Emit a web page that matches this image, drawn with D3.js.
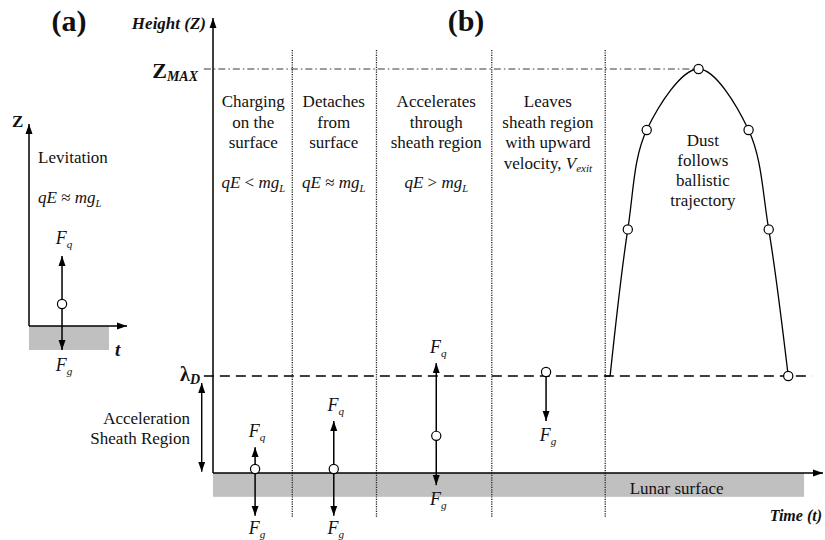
<!DOCTYPE html>
<html>
<head>
<meta charset="utf-8">
<script src="https://cdn.jsdelivr.net/npm/d3@7"></script>
</head>
<body style="margin:0; background:#fff">
<svg id="fig" width="825" height="540"></svg>
<script>
/* panel (b): time 0..100 along the surface, height 0..100 (0 = surface, 100 = Z_MAX) */
var phaseBounds = [13.0, 26.8, 45.7, 64.3];
var phaseCentres = [6.6, 19.8, 36.6, 54.9];
var phaseText = [
    ["Charging", "on the", "surface"],
    ["Detaches", "from", "surface"],
    ["Accelerates", "through", "sheath region"],
    ["Leaves", "sheath region", "with upward", "velocity, "]
];
var phaseRelation = ["<", "\u2248", ">", null];

var particleT = [6.9, 19.8, 36.6, 54.6];
var particleZ = [1.0, 1.0, 9.2, 25.0];
var fqTipZ = [6.4, 12.9, 27.2, null];
var fgTipZ = [-10.6, -10.6, -3.0, 12.9];

var sheathZ = 24.0;          // lambda_D
var surfaceDepth = -5.9;     // grey lunar surface band
var surfaceEndT = 96.9;

// ballistic trajectory, points
var trajT = [65.1, 68.0, 71.1, 79.6, 87.8, 91.1, 94.3];
var trajZ = [24.0, 60.3, 84.9, 100, 84.9, 60.3, 24.0];
var trajMarked = [false, true, true, true, true, true, true];
var dustText = ["Dust", "follows", "ballistic", "trajectory"];

/* panel (a): time 0..100, height 0..100 */
var levT = 33.7, levZ = 10.9, levFq = 34.7, levFg = -11.9;
var levGroundEnd = 81.6;

var FONT = "Liberation Serif";
var svg = d3.select("#fig");

var defs = svg.append("defs");
defs.append("marker")
    .attr("id", "ah")
    .attr("viewBox", "0 -4 10 8")
    .attr("refX", 10).attr("refY", 0)
    .attr("markerUnits", "userSpaceOnUse")
    .attr("markerWidth", 10).attr("markerHeight", 8)
    .attr("orient", "auto-start-reverse")
  .append("path")
    .attr("d", "M0,-3.5L10,0L0,3.5Z")
    .style("fill", "#000");

function txt(g, x, y, s, size, anchor) {
    return g.append("text")
        .attr("x", x).attr("y", y)
        .attr("text-anchor", anchor || "start")
        .attr("font-family", FONT)
        .attr("font-size", size)
        .attr("fill", "#111")
        .text(s);
}

// text with italic / subscript parts
function rich(g, x, y, parts, size, anchor) {
    var t = txt(g, x, y, null, size, anchor);
    var down = 0;
    parts.forEach(function(p) {
        var s = t.append("tspan").text(p.t);
        if (p.i) s.attr("font-style", "italic");
        if (p.b) s.attr("font-weight", "bold");
        var want = p.sub ? (p.subDy || 4) : 0;
        if (want != down) { s.attr("dy", want - down); down = want; }
        if (p.sub) s.attr("font-size", p.subSize || size * 0.62);
    });
    return t;
}

function force(sym) {
    return [{t: "F", i: true}, {t: sym, i: true, sub: true}];
}
function relation(op) {
    return [{t: "q", i: true}, {t: "E", i: true}, {t: " " + op + " "},
            {t: "m", i: true}, {t: "g", i: true}, {t: "L", i: true, sub: true}];
}

/* ---------- panel (b) ---------- */
var x = d3.scaleLinear().domain([0, 100]).range([213, 823]);
var y = d3.scaleLinear().domain([0, 100]).range([473, 69]);
var b = svg.append("g");

b.append("rect")
    .attr("x", x(0)).attr("y", y(0))
    .attr("width", x(surfaceEndT) - x(0))
    .attr("height", y(surfaceDepth) - y(0))
    .style("fill", "#c0c0c0");

b.selectAll(".divider")
    .data(phaseBounds)
    .enter().append("line")
    .attr("class", "divider")
    .attr("x1", function(d) {return x(d);}).attr("x2", function(d) {return x(d);})
    .attr("y1", y(104.7)).attr("y2", y(-10.9))
    .style("stroke", "#222").style("stroke-width", 1.3)
    .style("stroke-dasharray", "1.2,1.2");

// Z_MAX dash-dot
b.append("line")
    .attr("x1", x(-1.5)).attr("x2", x(79.6))
    .attr("y1", y(100)).attr("y2", y(100))
    .style("stroke", "#222").style("stroke-width", 0.9)
    .style("stroke-dasharray", "7,3,1.5,3");

// lambda_D dashed
b.append("line")
    .attr("x1", x(-1.5)).attr("x2", x(98.2))
    .attr("y1", y(sheathZ)).attr("y2", y(sheathZ))
    .style("stroke", "#000").style("stroke-width", 1.6)
    .style("stroke-dasharray", "10,6");

// axes
b.append("line")
    .attr("x1", x(0)).attr("x2", x(0))
    .attr("y1", y(0)).attr("y2", y(112.6))
    .attr("marker-end", "url(#ah)")
    .style("stroke", "#000").style("stroke-width", 1.5);
b.append("line")
    .attr("x1", x(0)).attr("x2", x(100))
    .attr("y1", y(0)).attr("y2", y(0))
    .attr("marker-end", "url(#ah)")
    .style("stroke", "#000").style("stroke-width", 1.5);

// sheath double arrow
b.append("line")
    .attr("x1", x(-1.85)).attr("x2", x(-1.85))
    .attr("y1", y(22.3)).attr("y2", y(0.3))
    .attr("marker-start", "url(#ah)").attr("marker-end", "url(#ah)")
    .style("stroke", "#000").style("stroke-width", 1.4);

// trajectory
var traj = trajT.map(function(d, i) {return [d, trajZ[i]];});
b.append("line")
    .attr("x1", x(phaseBounds[3])).attr("x2", x(trajT[0]))
    .attr("y1", y(sheathZ)).attr("y2", y(sheathZ))
    .style("stroke", "#000").style("stroke-width", 1.3);
b.append("path")
    .attr("d", d3.line()
        .x(function(d) {return x(d[0]);})
        .y(function(d) {return y(d[1]);})
        .curve(d3.curveCatmullRom.alpha(0.5))(traj))
    .style("fill", "none").style("stroke", "#000").style("stroke-width", 1.3);

// forces
particleT.forEach(function(t, i) {
    if (fqTipZ[i] !== null) {
        b.append("line")
            .attr("x1", x(t)).attr("x2", x(t))
            .attr("y1", y(particleZ[i])).attr("y2", y(fqTipZ[i]))
            .attr("marker-end", "url(#ah)")
            .style("stroke", "#000").style("stroke-width", 1.5);
        rich(b, x(t) + 2, y(fqTipZ[i]) - 10, force("q"), 18, "middle");
    }
    b.append("line")
        .attr("x1", x(t)).attr("x2", x(t))
        .attr("y1", y(particleZ[i])).attr("y2", y(fgTipZ[i]))
        .attr("marker-end", "url(#ah)")
        .style("stroke", "#000").style("stroke-width", 1.5);
    rich(b, x(t) + 2, Math.min(y(fgTipZ[i]) + 20, 534), force("g"), 18, "middle");
});

// particles
b.selectAll(".dust")
    .data(particleT.map(function(d, i) {return [d, particleZ[i]];})
        .concat(traj.filter(function(d, i) {return trajMarked[i];})))
    .enter().append("circle")
    .attr("class", "dust")
    .attr("cx", function(d) {return x(d[0]);})
    .attr("cy", function(d) {return y(d[1]);})
    .attr("r", 4.6)
    .style("fill", "#fff").style("stroke", "#000").style("stroke-width", 1.2);

// phase texts
phaseText.forEach(function(lines, i) {
    lines.forEach(function(l, j) {
        var t = txt(b, x(phaseCentres[i]), y(100) + 38 + j * 20.5, l, 17, "middle");
        if (l.indexOf("velocity") === 0) {
            t.append("tspan").attr("font-style", "italic").text("V");
            t.append("tspan").attr("dy", 3).attr("font-style", "italic")
                .attr("font-size", 11).text("exit");
        }
    });
    if (phaseRelation[i]) {
        rich(b, x(phaseCentres[i]), y(100) + 119, relation(phaseRelation[i]), 17, "middle");
    }
});

dustText.forEach(function(l, j) {
    txt(b, x(80.3), y(100) + 77 + j * 20, l, 17, "middle");
});

txt(b, x(76), y(0) + 21, "Lunar surface", 17, "middle");

// axis labels
txt(b, 206, 29, "Height (Z)", 17, "end")
    .attr("font-weight", "bold").attr("font-style", "italic");
txt(b, 822, 521, "Time (t)", 16, "end")
    .attr("font-weight", "bold").attr("font-style", "italic");

rich(b, 198, y(100) + 9,
    [{t: "Z", b: true}, {t: "MAX", b: true, i: true, sub: true, subSize: 14, subDy: 3}], 22, "end");
rich(b, 200, y(sheathZ) + 5,
    [{t: "\u03bb", b: true}, {t: "D", b: true, i: true, sub: true, subSize: 14, subDy: 3}], 20, "end");

txt(b, 190, 424, "Acceleration", 17, "end");
txt(b, 190, 444, "Sheath Region", 17, "end");

txt(b, 466, 31, "(b)", 30, "middle").attr("font-weight", "bold");

/* ---------- panel (a) ---------- */
var xa = d3.scaleLinear().domain([0, 100]).range([29, 127]);
var ya = d3.scaleLinear().domain([0, 100]).range([326, 124]);
var a = svg.append("g");

a.append("rect")
    .attr("x", xa(0)).attr("y", ya(0))
    .attr("width", xa(levGroundEnd) - xa(0))
    .attr("height", ya(levFg) - ya(0))
    .style("fill", "#c0c0c0");
a.append("line")
    .attr("x1", xa(0)).attr("x2", xa(0))
    .attr("y1", ya(0)).attr("y2", ya(100))
    .attr("marker-end", "url(#ah)")
    .style("stroke", "#000").style("stroke-width", 1.5);
a.append("line")
    .attr("x1", xa(0)).attr("x2", xa(100))
    .attr("y1", ya(0)).attr("y2", ya(0))
    .attr("marker-end", "url(#ah)")
    .style("stroke", "#000").style("stroke-width", 1.5);
a.append("line")
    .attr("x1", xa(levT)).attr("x2", xa(levT))
    .attr("y1", ya(levZ)).attr("y2", ya(levFq))
    .attr("marker-end", "url(#ah)")
    .style("stroke", "#000").style("stroke-width", 1.5);
a.append("line")
    .attr("x1", xa(levT)).attr("x2", xa(levT))
    .attr("y1", ya(levZ)).attr("y2", ya(levFg))
    .attr("marker-end", "url(#ah)")
    .style("stroke", "#000").style("stroke-width", 1.5);
a.append("circle")
    .attr("cx", xa(levT)).attr("cy", ya(levZ)).attr("r", 4.6)
    .style("fill", "#fff").style("stroke", "#000").style("stroke-width", 1.2);

rich(a, xa(levT) + 2, ya(levFq) - 12, force("q"), 18, "middle");
rich(a, xa(levT) + 2, ya(levFg) + 21, force("g"), 18, "middle");

txt(a, 12, 127, "Z", 17, "start").attr("font-weight", "bold");
txt(a, 115, 356, "t", 19, "start").attr("font-weight", "bold").attr("font-style", "italic");
txt(a, 38, 163, "Levitation", 17, "start");
rich(a, 38, 203, relation("\u2248"), 17, "start");

txt(a, 69, 31, "(a)", 30, "middle").attr("font-weight", "bold");
</script>
</body>
</html>
